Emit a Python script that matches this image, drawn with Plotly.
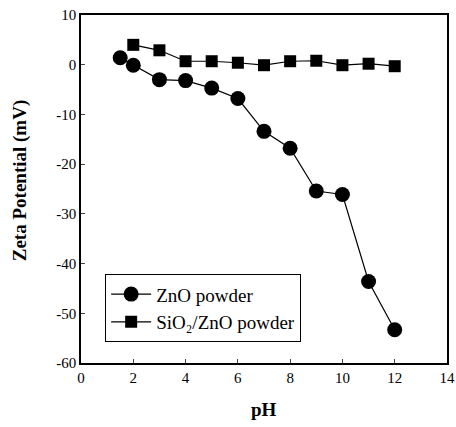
import plotly.graph_objects as go

ph_zno = [1.5, 2, 3, 4, 5, 6, 7, 8, 9, 10, 11, 12]
zeta_zno = [1.4, -0.1, -3.0, -3.2, -4.7, -6.8, -13.4, -16.8, -25.4, -26.1, -43.6, -53.3]
ph_sio2 = [2, 3, 4, 5, 6, 7, 8, 9, 10, 11, 12]
zeta_sio2 = [4.0, 2.9, 0.7, 0.7, 0.4, -0.1, 0.7, 0.8, -0.1, 0.2, -0.3]
x_ticks = [0, 2, 4, 6, 8, 10, 12, 14]
y_ticks = [10, 0, -10, -20, -30, -40, -50, -60]
y_ticktext = ["10", "0", "-10", "-20", "-30", "-40", "-50", "-60"]

fig = go.Figure()
fig.add_trace(go.Scatter(x=ph_zno, y=zeta_zno, mode="lines+markers", name="ZnO powder",
                         line=dict(color="black", width=1.2),
                         marker=dict(symbol="circle", size=15, color="black")))
fig.add_trace(go.Scatter(x=ph_sio2, y=zeta_sio2, mode="lines+markers", name="SiO₂/ZnO powder",
                         line=dict(color="black", width=1.2),
                         marker=dict(symbol="square", size=12, color="black")))

font_family = "Liberation Serif"
fig.update_layout(
    width=456, height=427,
    margin=dict(l=81, r=9, t=15, b=64),
    paper_bgcolor="white", plot_bgcolor="white",
    font=dict(family=font_family, color="black", size=14),
    showlegend=True,
    legend=dict(x=0.066, y=0.255, xanchor="left", yanchor="top",
                bordercolor="black", borderwidth=1, bgcolor="white",
                itemwidth=40,
                font=dict(family=font_family, size=19), tracegroupgap=0),
    xaxis=dict(range=[0, 14], tickvals=x_ticks, ticks="inside", ticklen=4,
               showgrid=False, zeroline=False, showline=True, linecolor="black",
               linewidth=1.5, mirror=True, automargin=False,
               tickfont=dict(family=font_family, size=15)),
    yaxis=dict(range=[-60, 10], tickvals=y_ticks, ticktext=y_ticktext, ticks="inside", ticklen=4,
               showgrid=False, zeroline=False, showline=True, linecolor="black",
               linewidth=1.5, mirror=True, automargin=False,
               tickfont=dict(family=font_family, size=15)),
    annotations=[
        dict(text="<b>Zeta Potential (mV)</b>", xref="paper", yref="paper",
             x=-0.166, y=0.523, xanchor="center", yanchor="middle", textangle=-90,
             showarrow=False, font=dict(family=font_family, size=19)),
        dict(text="<b>pH</b>", xref="paper", yref="paper",
             x=0.499, y=-0.135, xanchor="center", yanchor="middle",
             showarrow=False, font=dict(family=font_family, size=19)),
    ],
)
fig.write_html("out.html", config={"displayModeBar": False},
               post_script="document.body.style.margin='0';document.body.style.padding='0';")
